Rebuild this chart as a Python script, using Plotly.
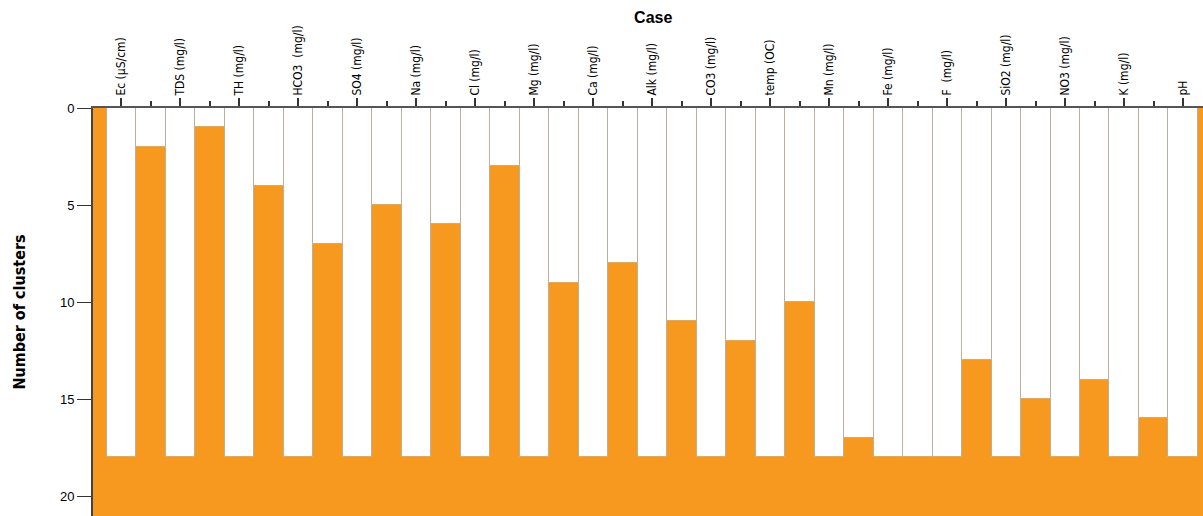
import plotly.graph_objects as go

# Variables in dendrogram order (columns of the icicle plot)
cases = ["Ec (µS/cm)", "TDS (mg/l)", "TH (mg/l)", "HCO3  (mg/l)", "SO4 (mg/l)",
         "Na (mg/l)", "Cl (mg/l)", "Mg (mg/l)", "Ca (mg/l)", "Alk (mg/l)",
         "CO3 (mg/l)", "temp (OC)", "Mn (mg/l)", "Fe (mg/l)", "F  (mg/l)",
         "SiO2 (mg/l)", "NO3 (mg/l)", "K (mg/l)", "pH"]
# Number of clusters at which neighbouring cases stay separated
join_levels = [2, 1, 4, 7, 5, 6, 3, 9, 8, 11, 12, 10, 17, 18, 13, 15, 14, 16]
max_clusters = 18
y_ticks = [0, 5, 10, 15, 20]

ORANGE = "#F7991F"
EDGE = "#BFAE98"
NARROW = "DejaVu Sans Condensed, Liberation Sans Narrow, Arial Narrow, sans-serif"

case_pos = [2 * i + 1 for i in range(len(cases))]
gap_pos = [2 * i + 2 for i in range(len(join_levels))]

fig = go.Figure()
fig.add_trace(go.Bar(
    x=case_pos, y=[max_clusters] * len(cases), base=0, width=1,
    marker=dict(color="white", line=dict(color=EDGE, width=1)),
    hoverinfo="skip", showlegend=False))
fig.add_trace(go.Bar(
    x=gap_pos, y=join_levels, base=0, width=1,
    marker=dict(color="white", line=dict(color=EDGE, width=1)),
    hoverinfo="skip", showlegend=False))

fig.update_layout(
    width=1203, height=516,
    margin=dict(l=93, r=0, t=108, b=0),
    paper_bgcolor="white", plot_bgcolor=ORANGE,
    barmode="overlay", bargap=0,
    title=dict(text="<b>Case</b>", x=0.543, xanchor="center",
               y=1 - 17 / 516, yanchor="middle",
               font=dict(family="Liberation Sans, Arial", size=16, color="black")),
    font=dict(family="Liberation Sans, Arial", color="black"),
)
fig.update_xaxes(
    side="top", range=[0.04, 37.67], showgrid=False, zeroline=False,
    showline=True, linecolor="#555555", linewidth=2,
    tickmode="array", tickvals=case_pos, ticktext=cases, tickangle=-90,
    ticks="outside", ticklen=8, tickwidth=2, tickcolor="#333333",
    tickfont=dict(family=NARROW, size=12),
    minor=dict(tickmode="array", tickvals=gap_pos, ticks="outside",
               ticklen=5, tickwidth=2, tickcolor="#333333", showgrid=False),
)
fig.update_yaxes(
    range=[21.03, 0], showgrid=False, zeroline=False,
    showline=True, linecolor="#444444", linewidth=2,
    tickmode="array", tickvals=y_ticks,
    ticks="outside", ticklen=14, tickwidth=1, tickcolor="#333333",
    tickfont=dict(family="Liberation Sans, Arial", size=13),
    title=dict(text="<b>Number of clusters</b>", standoff=30,
               font=dict(family=NARROW, size=16)),
)

fig.write_html("out.html")
